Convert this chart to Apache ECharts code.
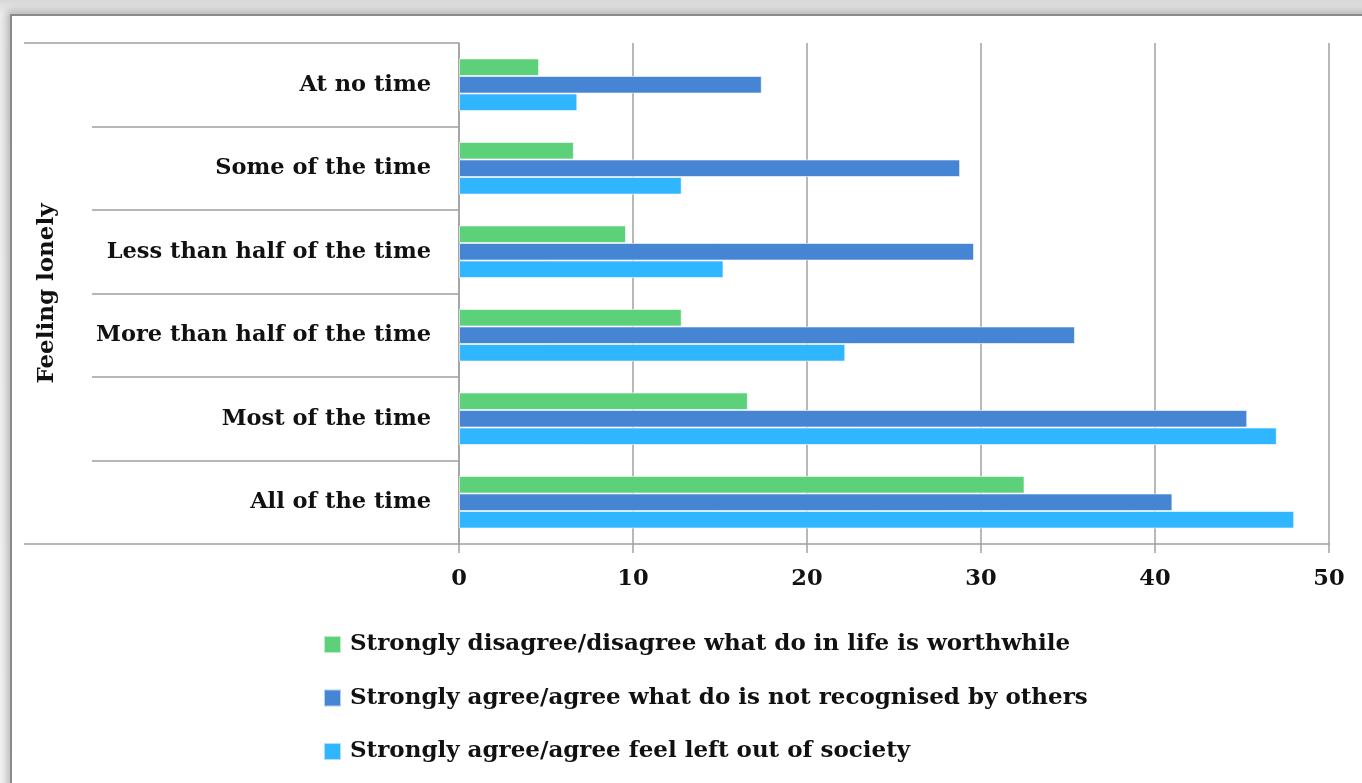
<!DOCTYPE html>
<html>
<head>
<meta charset="utf-8">
<script src="https://cdn.jsdelivr.net/npm/echarts@6/dist/echarts.min.js"></script>
<style>
    html, body { margin: 0; padding: 0; width: 1362px; height: 783px; overflow: hidden; }
    body { background: linear-gradient(#d8d8d8, #eeeeee 14px, #f4f4f4); }
    .card {
        position: absolute; left: 10px; top: 14px; width: 1400px; height: 820px;
        background: #fff; border: 2px solid #8a8a8a;
        box-shadow: -3px -3px 8px rgba(0,0,0,0.25);
    }
    #chart { position: absolute; left: 0; top: 0; width: 1362px; height: 783px; }
</style>
</head>
<body>
<div class="card"></div>
<div id="chart"></div>
<script>
// 分类（从上到下）
const categories = [
    'At no time',
    'Some of the time',
    'Less than half of the time',
    'More than half of the time',
    'Most of the time',
    'All of the time',
]
const groupName = 'Feeling lonely'

const seriesNames = [
    'Strongly disagree/disagree what do in life is worthwhile',
    'Strongly agree/agree what do is not recognised by others',
    'Strongly agree/agree feel left out of society',
]
const worthwhileValues = [4.6, 6.6, 9.6, 12.8, 16.6, 32.5]
const notRecognisedValues = [17.4, 28.8, 29.6, 35.4, 45.3, 41.0]
const leftOutValues = [6.8, 12.8, 15.2, 22.2, 47.0, 48.0]

const xTicks = { min: 0, max: 50, interval: 10 }

const COLORS = ['#5cd17a', '#4585d4', '#30b6ff']
const FONT = 'DejaVu Serif'
const FONT_SIZE = 22.5
const LINE_GRAY = '#a0a0a0'

const myChart = echarts.init(document.getElementById('chart'))

const barStyle = (color) => ({
    color: color,
    borderColor: 'rgba(255,255,255,0.6)',
    borderWidth: 1,
})

const option = {
    animation: false,
    textStyle: { fontFamily: FONT },
    grid: { left: 459, right: 33, top: 43, bottom: 239 },
    legend: {
        orient: 'vertical',
        left: 318,
        top: 627,
        padding: 5,
        itemWidth: 17,
        itemHeight: 17,
        itemGap: 28.5,
        icon: 'rect',
        textStyle: {
            fontFamily: FONT,
            fontWeight: 'bold',
            fontSize: 23,
            lineHeight: 25,
            color: '#111',
            padding: [0, 0, 0, 4],
        },
        data: seriesNames,
    },
    xAxis: {
        type: 'value',
        min: xTicks.min,
        max: xTicks.max,
        interval: xTicks.interval,
        axisLine: { show: true, lineStyle: { color: LINE_GRAY, width: 1.5 } },
        axisTick: { show: true, length: 9, lineStyle: { color: LINE_GRAY, width: 1.5 } },
        splitLine: { show: true, lineStyle: { color: LINE_GRAY, width: 1.5 } },
        axisLabel: {
            margin: 24,
            fontFamily: FONT,
            fontWeight: 'bold',
            fontSize: FONT_SIZE,
            color: '#111',
        },
    },
    yAxis: [
        {
            type: 'category',
            inverse: true,
            data: categories,
            axisLine: { show: true, lineStyle: { color: LINE_GRAY, width: 1.5 } },
            axisTick: { show: true, length: 367, lineStyle: { color: LINE_GRAY, width: 1.5 } },
            axisLabel: {
                margin: 28,
                fontFamily: FONT,
                fontWeight: 'bold',
                fontSize: FONT_SIZE,
                color: '#111',
            },
        },
        {
            // 外层分组：Feeling lonely
            type: 'category',
            position: 'left',
            data: [groupName],
            axisLine: { show: false },
            axisTick: { show: true, length: 435, lineStyle: { color: LINE_GRAY, width: 1.5 } },
            axisLabel: {
                rotate: 90,
                margin: 400,
                fontFamily: FONT,
                fontWeight: 'bold',
                fontSize: 23,
                color: '#111',
            },
        },
    ],
    series: [
        {
            name: seriesNames[0],
            type: 'bar',
            yAxisIndex: 0,
            data: worthwhileValues,
            itemStyle: barStyle(COLORS[0]),
            barGap: '0%',
            barCategoryGap: '37%',
        },
        {
            name: seriesNames[1],
            type: 'bar',
            yAxisIndex: 0,
            data: notRecognisedValues,
            itemStyle: barStyle(COLORS[1]),
            barGap: '0%',
            barCategoryGap: '37%',
        },
        {
            name: seriesNames[2],
            type: 'bar',
            yAxisIndex: 0,
            data: leftOutValues,
            itemStyle: barStyle(COLORS[2]),
            barGap: '0%',
            barCategoryGap: '37%',
        },
    ],
}

myChart.setOption(option)
</script>
</body>
</html>
